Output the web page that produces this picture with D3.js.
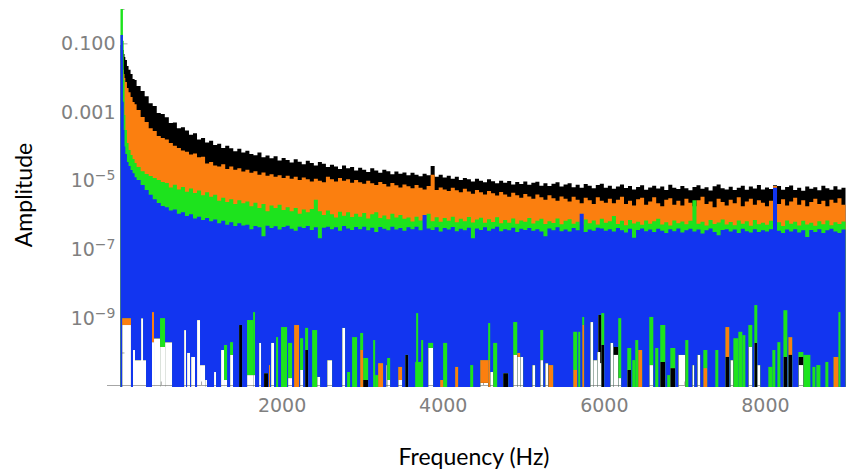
<!DOCTYPE html>
<meta charset="utf-8">
<style>
    body { margin: 0; background: #fff; }
    svg { display: block; }
    .tick text { font-family: "DejaVu Sans", sans-serif; font-size: 19px; fill: #808080; }
    .tick line, .axis-line { stroke: #a6a6a6; stroke-width: 1; }
    .title { font-family: Lato, sans-serif; font-size: 23px; fill: #000; }
</style>
<svg width="846" height="472"></svg>
<script src="https://d3js.org/d3.v7.min.js"></script>
<script>
    // frequency bins (Hz), finer near 0 where the spectra fall steeply
    var freqs = [0, 10, 20, 30, 40, 50, 60, 80, 100, 125, 150, 175, 200, 250, 300, 350, 400, 450, 500,
        550, 600, 650, 700, 750, 800, 850, 900, 950, 1000,
        1050, 1100, 1150, 1200, 1250, 1300, 1350, 1400, 1450, 1500,
        1550, 1600, 1650, 1700, 1750, 1800, 1850, 1900, 1950, 2000,
        2050, 2100, 2150, 2200, 2250, 2300, 2350, 2400, 2450, 2500,
        2550, 2600, 2650, 2700, 2750, 2800, 2850, 2900, 2950, 3000,
        3050, 3100, 3150, 3200, 3250, 3300, 3350, 3400, 3450, 3500,
        3550, 3600, 3650, 3700, 3750, 3800, 3850, 3900, 3950, 4000,
        4050, 4100, 4150, 4200, 4250, 4300, 4350, 4400, 4450, 4500,
        4550, 4600, 4650, 4700, 4750, 4800, 4850, 4900, 4950, 5000,
        5050, 5100, 5150, 5200, 5250, 5300, 5350, 5400, 5450, 5500,
        5550, 5600, 5650, 5700, 5750, 5800, 5850, 5900, 5950, 6000,
        6050, 6100, 6150, 6200, 6250, 6300, 6350, 6400, 6450, 6500,
        6550, 6600, 6650, 6700, 6750, 6800, 6850, 6900, 6950, 7000,
        7050, 7100, 7150, 7200, 7250, 7300, 7350, 7400, 7450, 7500,
        7550, 7600, 7650, 7700, 7750, 7800, 7850, 7900, 7950, 8000,
        8050, 8100, 8150, 8200, 8250, 8300, 8350, 8400, 8450, 8500,
        8550, 8600, 8650, 8700, 8750, 8800, 8850, 8900, 8950, 9000];

    // upper envelope of each spectrum (amplitude), one value per bin
    var blackAmp = [9e-2, 9e-2, 7.3e-2, 6.4e-2, 4.9e-2, 4.0e-2, 3.3e-2, 2.2e-2, 1.7e-2, 1.28e-2, 9.1e-3, 8.6e-3, 5.7e-3, 4.1e-3, 2.9e-3, 1.8e-3, 1.5e-3, 9.4e-4, 8.7e-4,
        7.0e-4, 4.8e-4, 5.0e-4, 3.4e-4, 3.6e-4, 2.9e-4, 2.2e-4, 2.4e-4, 1.6e-4, 1.75e-4,
        1.3e-4, 1.45e-4, 1.1e-4, 1.2e-4, 9.0e-5, 1.05e-4, 8.8e-5, 7.2e-5, 8.5e-5, 6.6e-5,
        7.5e-5, 6.0e-5, 5.5e-5, 6.6e-5, 4.8e-5, 5.4e-5, 4.5e-5, 5.2e-5, 3.9e-5, 4.6e-5,
        4.0e-5, 3.4e-5, 4.2e-5, 3.6e-5, 3.0e-5, 3.8e-5, 3.3e-5, 2.8e-5, 3.5e-5, 3.1e-5,
        2.5e-5, 2.9e-5, 2.6e-5, 2.2e-5, 2.8e-5, 2.3e-5, 2.5e-5, 2.0e-5, 2.4e-5, 2.1e-5,
        1.8e-5, 2.3e-5, 2.0e-5, 1.7e-5, 2.1e-5, 1.9e-5, 1.55e-5, 1.85e-5, 1.6e-5, 1.75e-5,
        1.45e-5, 1.7e-5, 1.5e-5, 1.35e-5, 1.6e-5, 1.45e-5, 2.7e-5, 1.3e-5, 1.5e-5, 1.25e-5,
        1.4e-5, 1.15e-5, 1.3e-5, 1.05e-5, 1.2e-5, 1.1e-5, 9.5e-6, 1.15e-5, 1.0e-5, 9.0e-6,
        1.1e-5, 9.6e-6, 8.4e-6, 1.0e-5, 8.8e-6, 9.8e-6, 7.8e-6, 9.2e-6, 8.0e-6, 9.5e-6,
        7.6e-6, 8.8e-6, 9.4e-6, 7.2e-6, 8.5e-6, 7.0e-6, 8.2e-6, 9.0e-6, 6.8e-6, 7.8e-6,
        8.4e-6, 6.5e-6, 7.6e-6, 6.2e-6, 8.0e-6, 7.1e-6, 6.0e-6, 7.5e-6, 8.2e-6, 6.3e-6,
        7.2e-6, 5.8e-6, 6.8e-6, 7.8e-6, 6.1e-6, 7.0e-6, 5.6e-6, 6.6e-6, 7.4e-6, 5.5e-6,
        6.4e-6, 7.2e-6, 5.9e-6, 6.8e-6, 5.4e-6, 7.6e-6, 6.2e-6, 5.7e-6, 7.0e-6, 6.0e-6,
        5.3e-6, 6.6e-6, 7.4e-6, 5.8e-6, 6.5e-6, 5.2e-6, 6.9e-6, 7.8e-6, 6.0e-6, 5.6e-6,
        6.7e-6, 5.4e-6, 6.3e-6, 7.2e-6, 5.5e-6, 6.8e-6, 5.9e-6, 7.5e-6, 5.6e-6, 6.4e-6,
        5.7e-6, 7.4e-6, 7.0e-6, 5.5e-6, 6.6e-6, 7.3e-6, 5.4e-6, 6.2e-6, 5.1e-6, 6.8e-6,
        5.8e-6, 6.5e-6, 5.3e-6, 7.1e-6, 6.0e-6, 5.5e-6, 6.9e-6, 5.6e-6, 6.3e-6, 5.6e-6];

    var orangeAmp = [3.3e-2, 2.9e-2, 2.2e-2, 1.7e-2, 1.28e-2, 9.8e-3, 7.5e-3, 5.0e-3, 3.8e-3, 2.75e-3, 1.95e-3, 1.7e-3, 1.15e-3, 7.2e-4, 5.1e-4, 3.4e-4, 2.8e-4, 2.0e-4, 1.75e-4,
        1.6e-4, 1.25e-4, 1.05e-4, 9.0e-5, 7.6e-5, 7.0e-5, 5.8e-5, 6.2e-5, 4.8e-5, 5.0e-5,
        3.2e-5, 3.5e-5, 2.8e-5, 2.6e-5, 3.0e-5, 2.2e-5, 2.6e-5, 2.1e-5, 2.3e-5, 1.85e-5,
        2.1e-5, 1.7e-5, 1.9e-5, 1.5e-5, 1.75e-5, 1.4e-5, 1.55e-5, 1.3e-5, 1.45e-5, 1.2e-5,
        1.4e-5, 1.15e-5, 1.3e-5, 1.05e-5, 1.25e-5, 1.1e-5, 9.5e-6, 1.15e-5, 1.0e-5, 9.0e-6,
        1.3e-5, 1.1e-5, 9.5e-6, 1.2e-5, 1.0e-5, 1.1e-5, 8.8e-6, 1.05e-5, 9.0e-6, 8.2e-6,
        1.0e-5, 8.5e-6, 7.5e-6, 9.2e-6, 8.0e-6, 6.8e-6, 8.6e-6, 7.4e-6, 6.4e-6, 7.8e-6,
        6.9e-6, 6.0e-6, 7.5e-6, 6.3e-6, 5.6e-6, 7.0e-6, 1.5e-5, 5.4e-6, 6.4e-6, 5.6e-6,
        5.0e-6, 6.2e-6, 5.3e-6, 4.6e-6, 5.8e-6, 4.9e-6, 4.2e-6, 5.4e-6, 4.6e-6, 4.0e-6,
        5.0e-6, 4.3e-6, 3.7e-6, 4.7e-6, 4.0e-6, 3.4e-6, 4.5e-6, 3.8e-6, 3.2e-6, 4.1e-6,
        3.5e-6, 3.0e-6, 4.0e-6, 3.3e-6, 2.8e-6, 3.8e-6, 3.1e-6, 2.6e-6, 3.5e-6, 3.0e-6,
        2.5e-6, 3.4e-6, 2.8e-6, 2.2e-6, 3.2e-6, 2.7e-6, 2.1e-6, 3.3e-6, 2.6e-6, 2.3e-6,
        3.0e-6, 2.2e-6, 2.8e-6, 3.4e-6, 2.1e-6, 2.6e-6, 1.9e-6, 2.9e-6, 3.2e-6, 2.0e-6,
        2.5e-6, 3.3e-6, 2.2e-6, 1.8e-6, 2.8e-6, 3.1e-6, 2.0e-6, 2.6e-6, 1.9e-6, 3.0e-6,
        2.3e-6, 1.8e-6, 2.7e-6, 3.4e-6, 2.1e-6, 2.5e-6, 1.7e-6, 3.0e-6, 2.4e-6, 1.9e-6,
        2.8e-6, 2.2e-6, 3.3e-6, 1.8e-6, 2.5e-6, 3.0e-6, 2.0e-6, 2.7e-6, 2.3e-6, 1.8e-6,
        2.6e-6, 7.0e-6, 2.1e-6, 2.9e-6, 1.9e-6, 2.5e-6, 3.2e-6, 2.0e-6, 2.7e-6, 1.8e-6,
        2.4e-6, 3.0e-6, 2.1e-6, 2.6e-6, 1.8e-6, 2.8e-6, 2.3e-6, 3.1e-6, 2.0e-6, 2.5e-6];

    var greenAmp = [1.0, 1.0, 1.0, 0.12, 8.6e-3, 8.2e-4, 3.0e-4, 1.26e-4, 7.9e-5, 5.6e-5, 4.3e-5, 3.3e-5, 2.5e-5, 1.9e-5, 1.57e-5, 1.37e-5, 1.2e-5, 1.05e-5, 9.2e-6,
        8.6e-6, 6.4e-6, 7.6e-6, 5.6e-6, 6.6e-6, 4.8e-6, 5.9e-6, 4.4e-6, 5.2e-6, 3.8e-6,
        4.6e-6, 3.4e-6, 3.9e-6, 2.6e-6, 3.2e-6, 2.4e-6, 2.9e-6, 2.1e-6, 2.7e-6, 2.2e-6,
        2.5e-6, 1.8e-6, 2.3e-6, 1.6e-6, 2.1e-6, 1.3e-6, 1.9e-6, 1.6e-6, 2.0e-6, 1.4e-6,
        1.7e-6, 1.3e-6, 1.6e-6, 1.1e-6, 1.45e-6, 1.2e-6, 1.5e-6, 2.8e-6, 1.3e-6, 1.0e-6,
        1.35e-6, 1.05e-6, 8.5e-7, 1.25e-6, 9.5e-7, 1.2e-6, 8.8e-7, 1.1e-6, 9.0e-7, 1.15e-6,
        8.0e-7, 1.05e-6, 1.2e-6, 8.2e-7, 9.8e-7, 7.6e-7, 1.1e-6, 8.5e-7, 1.0e-6, 7.8e-7,
        8.5e-7, 6.5e-7, 9.0e-7, 7.0e-7, 8.0e-7, 1.1e-6, 6.6e-7, 8.6e-7, 6.4e-7, 8.2e-7,
        6.8e-7, 9.0e-7, 6.2e-7, 7.8e-7, 6.6e-7, 8.8e-7, 6.1e-7, 7.4e-7, 8.4e-7, 6.0e-7,
        7.6e-7, 6.3e-7, 8.6e-7, 5.8e-7, 7.2e-7, 6.0e-7, 8.0e-7, 5.6e-7, 7.0e-7, 6.4e-7,
        8.2e-7, 5.7e-7, 6.8e-7, 7.8e-7, 5.5e-7, 6.6e-7, 5.9e-7, 8.0e-7, 5.4e-7, 6.8e-7,
        7.6e-7, 5.6e-7, 6.4e-7, 5.2e-7, 7.4e-7, 5.8e-7, 6.9e-7, 5.3e-7, 7.8e-7, 6.0e-7,
        6.6e-7, 9.4e-7, 5.5e-7, 6.8e-7, 5.1e-7, 7.2e-7, 5.7e-7, 6.4e-7, 5.2e-7, 7.0e-7,
        5.6e-7, 6.6e-7, 7.8e-7, 5.3e-7, 6.2e-7, 5.0e-7, 7.0e-7, 5.8e-7, 6.5e-7, 5.4e-7,
        6.8e-7, 2.7e-6, 5.6e-7, 6.4e-7, 5.0e-7, 7.2e-7, 5.5e-7, 6.1e-7, 7.4e-7, 5.3e-7,
        6.3e-7, 5.1e-7, 7.0e-7, 5.6e-7, 6.6e-7, 4.9e-7, 7.2e-7, 5.4e-7, 6.0e-7, 5.2e-7,
        6.8e-7, 5.5e-7, 6.2e-7, 4.8e-7, 7.0e-7, 5.6e-7, 6.4e-7, 5.0e-7, 6.8e-7, 5.3e-7,
        6.0e-7, 4.9e-7, 6.6e-7, 5.4e-7, 7.0e-7, 5.1e-7, 6.2e-7, 5.5e-7, 6.5e-7, 5.0e-7];

    var blueAmp = [0.175, 0.175, 0.175, 2.0e-3, 3.0e-4, 1.0e-4, 6.0e-5, 3.5e-5, 2.7e-5, 2.06e-5, 1.65e-5, 1.27e-5, 1.05e-5, 7.5e-6, 5.4e-6, 3.9e-6, 2.9e-6, 2.25e-6, 1.84e-6,
        1.7e-6, 1.35e-6, 1.45e-6, 1.1e-6, 1.2e-6, 9.4e-7, 1.05e-6, 8.0e-7, 9.0e-7, 7.2e-7,
        8.2e-7, 6.6e-7, 7.4e-7, 5.8e-7, 6.8e-7, 5.2e-7, 6.2e-7, 4.8e-7, 5.8e-7, 5.0e-7,
        5.2e-7, 3.9e-7, 4.8e-7, 4.4e-7, 2.4e-7, 4.9e-7, 4.2e-7, 4.7e-7, 3.8e-7, 4.5e-7,
        4.9e-7, 4.0e-7, 3.5e-7, 4.6e-7, 4.2e-7, 4.8e-7, 3.7e-7, 4.4e-7, 2.1e-7, 4.3e-7,
        4.6e-7, 3.9e-7, 4.4e-7, 3.5e-7, 4.8e-7, 4.1e-7, 3.7e-7, 4.5e-7, 3.9e-7, 4.6e-7,
        3.6e-7, 4.3e-7, 3.2e-7, 4.5e-7, 4.0e-7, 3.6e-7, 4.6e-7, 3.8e-7, 4.2e-7, 3.5e-7,
        4.4e-7, 3.9e-7, 4.6e-7, 3.6e-7, 1.0e-6, 4.1e-7, 3.7e-7, 4.4e-7, 3.3e-7, 4.2e-7,
        3.8e-7, 4.5e-7, 3.4e-7, 4.0e-7, 3.6e-7, 4.3e-7, 2.1e-7, 4.1e-7, 3.7e-7, 4.4e-7,
        3.5e-7, 4.0e-7, 4.6e-7, 3.4e-7, 3.9e-7, 3.6e-7, 4.3e-7, 3.2e-7, 4.0e-7, 3.7e-7,
        4.2e-7, 3.5e-7, 3.9e-7, 3.3e-7, 2.4e-7, 4.1e-7, 3.6e-7, 4.4e-7, 3.4e-7, 3.8e-7,
        3.3e-7, 4.2e-7, 3.6e-7, 1.1e-6, 3.2e-7, 3.8e-7, 3.5e-7, 4.3e-7, 4.1e-7, 3.5e-7,
        3.9e-7, 3.3e-7, 4.2e-7, 3.6e-7, 3.1e-7, 4.0e-7, 2.2e-7, 3.7e-7, 4.1e-7, 3.4e-7,
        3.8e-7, 3.2e-7, 4.0e-7, 3.5e-7, 3.0e-7, 3.9e-7, 3.4e-7, 4.1e-7, 3.1e-7, 3.6e-7,
        4.0e-7, 3.3e-7, 3.8e-7, 2.9e-7, 3.6e-7, 4.1e-7, 3.2e-7, 2.6e-7, 3.7e-7, 3.9e-7,
        3.3e-7, 3.8e-7, 3.0e-7, 4.0e-7, 3.4e-7, 3.1e-7, 3.9e-7, 3.2e-7, 3.6e-7, 3.3e-7,
        3.9e-7, 6.2e-6, 3.5e-7, 3.0e-7, 3.8e-7, 3.3e-7, 3.9e-7, 3.1e-7, 3.6e-7, 2.3e-7,
        3.7e-7, 3.2e-7, 3.9e-7, 3.0e-7, 3.6e-7, 4.0e-7, 3.3e-7, 3.0e-7, 3.8e-7, 3.4e-7];

    // deep drops of each spectrum: [from Hz, to Hz, amplitude the drop reaches up to]
    var blueDips = [[20, 130, 1.0e-9], [155, 180, 1.18e-10], [180, 317, 6.0e-11], [255, 280, 1.0e-9], [391, 416, 1.5e-9],
        [416, 491, 2.6e-10], [491, 553, 1.0e-9], [553, 640, 2.0e-10], [789, 813, 4.5e-10], [826, 863, 9.7e-11],
        [876, 925, 7.4e-11], [950, 987, 8.8e-10], [987, 1050, 4.3e-11], [1050, 1074, 1.58e-11], [1161, 1186, 2.7e-11],
        [1248, 1285, 1.18e-10], [1285, 1323, 1.65e-10], [1360, 1397, 2.0e-10], [1472, 1509, 6.3e-10], [1571, 1646, 8.8e-10],
        [1646, 1670, 1.5e-9], [1720, 1745, 1.9e-10], [1782, 1832, 2.5e-11], [1844, 1857, 4.3e-11], [1869, 1906, 1.9e-10],
        [1931, 1956, 2.8e-10], [1993, 2068, 5.5e-10], [2080, 2130, 1.9e-10], [2155, 2217, 6.3e-10], [2229, 2267, 2.6e-10],
        [2292, 2329, 5.2e-10], [2379, 2441, 4.5e-10], [2441, 2478, 1.94e-11], [2565, 2627, 6.0e-11], [2751, 2788, 5.2e-10],
        [2813, 2850, 2.7e-11], [2875, 2937, 2.8e-10], [2975, 3012, 3.7e-10], [3012, 3074, 6.9e-11], [3136, 3161, 2.3e-10],
        [3161, 3198, 2.2e-11], [3198, 3260, 4.9e-11], [3298, 3310, 4.3e-11], [3310, 3347, 6.9e-11], [3447, 3496, 3.8e-11],
        [3534, 3571, 8.5e-11], [3658, 3745, 5.3e-11], [3670, 3695, 1.4e-9], [3732, 3757, 2.3e-10], [3819, 3881, 1.9e-10],
        [3968, 4005, 1.58e-11], [4005, 4055, 1.9e-10], [4154, 4192, 3.8e-11], [4341, 4378, 4.3e-11], [4465, 4564, 6.0e-11],
        [4564, 4589, 7.2e-10], [4589, 4626, 2.7e-11], [4626, 4676, 1.9e-10], [4750, 4813, 2.5e-11], [4875, 4925, 7.7e-10],
        [4925, 4962, 9.7e-11], [4962, 4999, 7.4e-11], [5111, 5148, 4.3e-11], [5210, 5248, 4.5e-10], [5272, 5310, 4.9e-11],
        [5310, 5372, 4.3e-11], [5620, 5670, 4.0e-10], [5682, 5707, 4.0e-10], [5732, 5756, 1.08e-9], [5831, 5868, 7.7e-10],
        [5868, 5918, 6.0e-11], [5918, 5955, 1.03e-10], [5930, 5968, 1.24e-9], [5968, 6005, 1.4e-9], [6080, 6117, 1.9e-10],
        [6117, 6179, 1.45e-10], [6179, 6216, 1.0e-9], [6291, 6340, 1.35e-10], [6353, 6390, 6.0e-11], [6390, 6427, 2.3e-10],
        [6427, 6477, 1.18e-10], [6564, 6614, 1.08e-9], [6638, 6676, 1.35e-10], [6700, 6763, 6.3e-10], [6787, 6825, 2.2e-11],
        [6825, 6887, 1.35e-10], [6924, 7011, 8.5e-11], [7011, 7049, 2.3e-10], [7098, 7123, 4.3e-11], [7160, 7198, 8.5e-11],
        [7235, 7285, 1.18e-10], [7384, 7421, 1.18e-10], [7508, 7558, 5.5e-10], [7570, 7608, 6.0e-11], [7608, 7670, 2.6e-10],
        [7670, 7719, 4.0e-10], [7719, 7757, 3.2e-10], [7794, 7843, 6.3e-10], [7868, 7905, 2.4e-9], [7905, 7943, 4.3e-11],
        [8042, 8092, 3.8e-11], [8092, 8129, 1.18e-10], [8154, 8191, 2.0e-10], [8229, 8278, 1.7e-9], [8290, 8340, 2.8e-10],
        [8415, 8477, 1.03e-10], [8477, 8564, 8.5e-11], [8589, 8626, 3.8e-11], [8638, 8688, 4.3e-11], [8750, 8787, 5.3e-11],
        [8850, 8912, 7.4e-11], [8912, 8937, 1.5e-9]];

    var greenDips = [[20, 130, 1.0e-9], [155, 180, 1.18e-10], [180, 317, 6.0e-11], [255, 280, 1.0e-9], [391, 416, 1.5e-9],
        [416, 491, 2.6e-10], [491, 553, 1.45e-10], [553, 640, 2.0e-10], [789, 813, 4.5e-10], [826, 863, 9.7e-11],
        [876, 925, 7.4e-11], [950, 987, 8.8e-10], [987, 1050, 4.3e-11], [1050, 1074, 1.58e-11], [1161, 1186, 2.7e-11],
        [1248, 1285, 1.18e-10], [1285, 1323, 1.58e-11], [1360, 1397, 8.5e-11], [1472, 1509, 6.3e-10], [1571, 1646, 2.2e-11],
        [1646, 1670, 2.2e-11], [1720, 1745, 1.9e-10], [1782, 1832, 2.5e-11], [1844, 1857, 4.3e-11], [1869, 1906, 1.9e-10],
        [2080, 2130, 1.8e-11], [2155, 2217, 6.3e-10], [2229, 2267, 3.1e-11], [2292, 2329, 1.18e-10], [2441, 2478, 1.94e-11],
        [2565, 2627, 6.0e-11], [2751, 2788, 5.2e-10], [2975, 3012, 1.18e-10], [3012, 3074, 1.58e-11], [3198, 3260, 4.9e-11],
        [3298, 3310, 4.3e-11], [3310, 3347, 1.58e-11], [3447, 3496, 3.8e-11], [3534, 3571, 8.5e-11], [3819, 3881, 1.35e-10],
        [3968, 4005, 1.58e-11], [4154, 4192, 3.8e-11], [4465, 4564, 6.0e-11], [4564, 4589, 6.0e-11], [4589, 4626, 2.7e-11],
        [4750, 4813, 2.5e-11], [4875, 4925, 8.5e-11], [4925, 4962, 9.7e-11], [4962, 4999, 7.4e-11], [5111, 5148, 4.3e-11],
        [5210, 5248, 6.0e-11], [5272, 5310, 4.9e-11], [5310, 5372, 4.3e-11], [5620, 5670, 3.1e-11], [5732, 5756, 6.3e-10],
        [5831, 5868, 7.7e-10], [5868, 5918, 6.0e-11], [5918, 5955, 1.03e-10], [5930, 5968, 1.24e-9], [5968, 6005, 1.65e-10],
        [6080, 6117, 1.9e-10], [6117, 6179, 1.45e-10], [6179, 6216, 1.8e-11], [6291, 6340, 3.1e-11], [6427, 6477, 1.18e-10],
        [6564, 6614, 4.3e-11], [6700, 6763, 5.3e-11], [6825, 6887, 3.5e-11], [6924, 7011, 8.5e-11], [7098, 7123, 4.3e-11],
        [7160, 7198, 8.5e-11], [7235, 7285, 3.5e-11], [7508, 7558, 5.5e-10], [7570, 7608, 6.0e-11], [7794, 7843, 1.45e-10],
        [7868, 7905, 1.9e-10], [7905, 7943, 4.3e-11], [8229, 8278, 7.4e-11], [8290, 8340, 2.8e-10], [8415, 8477, 7.4e-11],
        [8850, 8912, 7.4e-11]];

    var orangeDips = [[20, 130, 6.3e-10], [155, 180, 1.18e-10], [180, 317, 6.0e-11], [255, 280, 1.0e-9], [391, 416, 2.0e-10],
        [416, 491, 2.6e-10], [491, 553, 1.45e-10], [553, 640, 2.0e-10], [789, 813, 4.5e-10], [826, 863, 9.7e-11],
        [876, 925, 7.4e-11], [950, 987, 8.8e-10], [987, 1050, 4.3e-11], [1050, 1074, 1.58e-11], [1161, 1186, 2.7e-11],
        [1248, 1285, 1.18e-10], [1285, 1323, 1.58e-11], [1360, 1397, 8.5e-11], [1472, 1509, 6.3e-10], [1571, 1646, 2.2e-11],
        [1646, 1670, 2.2e-11], [1720, 1745, 1.9e-10], [1782, 1832, 2.5e-11], [1869, 1906, 1.9e-10], [2080, 2130, 1.8e-11],
        [2229, 2267, 3.1e-11], [2292, 2329, 1.18e-10], [2441, 2478, 1.94e-11], [2565, 2627, 6.0e-11], [2751, 2788, 5.2e-10],
        [3012, 3074, 1.58e-11], [3298, 3310, 4.3e-11], [3310, 3347, 1.58e-11], [3447, 3496, 1.58e-11], [3534, 3571, 8.5e-11],
        [3819, 3881, 1.35e-10], [4465, 4564, 1.3e-11], [4589, 4626, 2.7e-11], [4750, 4813, 2.5e-11], [4875, 4925, 8.5e-11],
        [4925, 4962, 7.4e-11], [4962, 4999, 7.4e-11], [5111, 5148, 4.3e-11], [5210, 5248, 6.0e-11], [5272, 5310, 4.9e-11],
        [5831, 5868, 7.7e-10], [5868, 5918, 6.0e-11], [5918, 5955, 1.03e-10], [5930, 5968, 1.24e-9], [5968, 6005, 1.65e-10],
        [6080, 6117, 1.9e-10], [6117, 6179, 1.45e-10], [6179, 6216, 1.8e-11], [6291, 6340, 3.1e-11], [6564, 6614, 4.3e-11],
        [6700, 6763, 5.3e-11], [6825, 6887, 3.5e-11], [6924, 7011, 8.5e-11], [7098, 7123, 4.3e-11], [7160, 7198, 8.5e-11],
        [7508, 7558, 7.4e-11], [7570, 7608, 6.0e-11], [7794, 7843, 1.45e-10], [7868, 7905, 1.9e-10], [7905, 7943, 4.3e-11],
        [8229, 8278, 7.4e-11], [8290, 8340, 8.5e-11], [8415, 8477, 7.4e-11]];

    var blackDips = [[20, 130, 6.3e-10], [155, 180, 1.18e-10], [180, 317, 6.0e-11], [255, 280, 1.0e-9], [391, 416, 2.0e-10],
        [416, 491, 2.6e-10], [491, 553, 1.45e-10], [553, 640, 2.0e-10], [789, 813, 4.5e-10], [826, 863, 9.7e-11],
        [876, 925, 7.4e-11], [950, 987, 8.8e-10], [987, 1050, 4.3e-11], [1050, 1074, 1.58e-11], [1161, 1186, 2.7e-11],
        [1248, 1285, 1.18e-10], [1285, 1323, 1.58e-11], [1360, 1397, 8.5e-11], [1571, 1646, 2.2e-11], [1646, 1670, 2.2e-11],
        [1720, 1745, 1.9e-10], [1869, 1906, 1.9e-10], [2080, 2130, 1.8e-11], [2229, 2267, 3.1e-11], [2441, 2478, 1.94e-11],
        [2565, 2627, 6.0e-11], [2751, 2788, 5.2e-10], [3298, 3310, 4.3e-11], [3310, 3347, 1.58e-11], [3447, 3496, 1.58e-11],
        [3819, 3881, 1.35e-10], [4465, 4564, 1.3e-11], [4589, 4626, 2.7e-11], [4875, 4925, 8.5e-11], [4925, 4962, 7.4e-11],
        [4962, 4999, 7.4e-11], [5111, 5148, 4.3e-11], [5210, 5248, 6.0e-11], [5272, 5310, 4.9e-11], [5831, 5868, 7.7e-10],
        [5868, 5918, 6.0e-11], [5918, 5955, 1.03e-10], [5930, 5968, 4.9e-11], [6080, 6117, 1.9e-10], [6117, 6179, 8.5e-11],
        [6179, 6216, 1.8e-11], [6564, 6614, 4.3e-11], [6924, 7011, 8.5e-11], [7098, 7123, 4.3e-11], [7160, 7198, 8.5e-11],
        [7570, 7608, 6.0e-11], [7794, 7843, 1.45e-10], [7905, 7943, 4.3e-11], [8415, 8477, 4.3e-11]];

    var xMajorTicks = [2000, 4000, 6000, 8000];
    var xMinorTicks = [500, 1000, 1500, 2500, 3000, 3500, 4500, 5000, 5500, 6500, 7000, 7500, 8500, 9000];
    var yMajorTicks = [1e-1, 1e-3, 1e-5, 1e-7, 1e-9];
    var yMinorTicks = [1, 1e-2, 1e-4, 1e-6, 1e-8, 1e-10];

    var svg = d3.select("svg");
    var x = d3.scaleLinear().domain([0, 9000]).range([120.5, 845.5]);
    var y = d3.scaleLog().domain([1.13e-11, 1]).range([385, 9]);
    var floorY = 387;

    // axes go under the spectra
    svg.append("line").attr("class", "axis-line")
        .attr("x1", 107).attr("x2", 846).attr("y1", 385.5).attr("y2", 385.5);
    svg.append("line").attr("class", "axis-line")
        .attr("x1", 121.5).attr("x2", 121.5).attr("y1", 9).attr("y2", 386);

    svg.append("g").attr("transform", "translate(0,385.5)")
        .call(d3.axisBottom(x).tickValues(xMinorTicks).tickSize(-4).tickFormat(""))
        .call(function (g) { g.select(".domain").remove(); });
    svg.append("g").attr("transform", "translate(0,385.5)")
        .call(d3.axisBottom(x).tickValues(xMajorTicks).tickSize(-7).tickPadding(13).tickFormat(d3.format("d")))
        .call(function (g) { g.select(".domain").remove(); });

    svg.append("g").attr("transform", "translate(121.5,0)")
        .call(d3.axisLeft(y).tickValues(yMinorTicks).tickSize(-3).tickFormat(""))
        .call(function (g) { g.select(".domain").remove(); });
    var yAxis = svg.append("g").attr("transform", "translate(121.5,0)")
        .call(d3.axisLeft(y).tickValues(yMajorTicks).tickSize(-6).tickPadding(6)
            .tickFormat(function (d) { return d > 1e-4 ? d3.format(".3f")(d) : "10"; }))
        .call(function (g) { g.select(".domain").remove(); });
    yAxis.selectAll(".tick text").each(function (d) {
        if (d < 1e-4) {
            d3.select(this).append("tspan")
                .attr("dy", "-0.5em")
                .attr("font-size", "14px")
                .text("\u2212" + Math.round(-Math.log10(d)));
        }
    });

    var series = [
        { name: "black", color: "#000000", amp: blackAmp, dips: blackDips },
        { name: "orange", color: "#fb7f0f", amp: orangeAmp, dips: orangeDips },
        { name: "green", color: "#1de31d", amp: greenAmp, dips: greenDips },
        { name: "blue", color: "#1235f0", amp: blueAmp, dips: blueDips }
    ];

    var defs = svg.append("defs");
    defs.append("clipPath").attr("id", "plot")
        .append("rect").attr("x", 120).attr("y", 9).attr("width", 726).attr("height", 380);

    // each spectrum is cut open where it drops below the axis
    series.forEach(function (s) {
        var mask = defs.append("mask").attr("id", "mask-" + s.name)
            .attr("maskUnits", "userSpaceOnUse")
            .attr("x", 0).attr("y", 0).attr("width", 846).attr("height", 472);
        mask.append("rect").attr("width", 846).attr("height", 472).attr("fill", "#fff");
        mask.selectAll("rect.dip")
            .data(s.dips)
            .enter().append("rect")
            .attr("class", "dip")
            .attr("x", function (d) { return x(d[0]); })
            .attr("width", function (d) { return Math.max(1, x(d[1]) - x(d[0])); })
            .attr("y", function (d) { return y(d[2]); })
            .attr("height", function (d) { return floorY + 3 - y(d[2]); })
            .attr("fill", "#000");
    });

    var area = d3.area()
        .x(function (d, i) { return x(freqs[i]); })
        .y0(floorY)
        .y1(function (d) { return y(d); })
        .curve(d3.curveStepAfter);

    var plot = svg.append("g").attr("clip-path", "url(#plot)");
    plot.selectAll("g.spectrum")
        .data(series)
        .enter().append("g")
        .attr("class", "spectrum")
        .attr("mask", function (s) { return "url(#mask-" + s.name + ")"; })
        .append("path")
        .attr("d", function (s) { return area(s.amp); })
        .attr("fill", function (s) { return s.color; });

    svg.append("text").attr("class", "title")
        .attr("x", 474).attr("y", 465)
        .attr("text-anchor", "middle")
        .text("Frequency (Hz)");

    svg.append("text").attr("class", "title")
        .attr("transform", "translate(32,195) rotate(-90)")
        .attr("text-anchor", "middle")
        .text("Amplitude");
</script>
